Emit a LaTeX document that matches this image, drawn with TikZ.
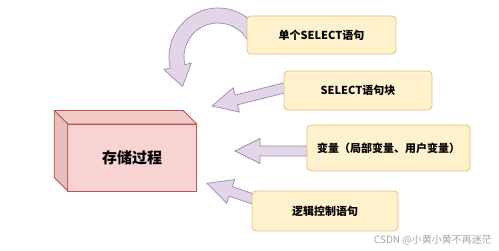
\documentclass[tikz,border=0pt]{standalone}
\usepackage{fontspec}
\newfontfamily\cjk{Noto Sans CJK SC}
\usetikzlibrary{calc}
\definecolor{arrfill}{HTML}{E1D5E7}
\definecolor{arrdraw}{HTML}{9E8AB4}
\definecolor{boxfill}{HTML}{FFF2CC}
\definecolor{boxdraw}{HTML}{DCC27A}
\definecolor{cubefront}{HTML}{F8D5D3}
\definecolor{cubetop}{HTML}{F1CAC8}
\definecolor{cubeside}{HTML}{E8BEBB}
\definecolor{cubedraw}{HTML}{B85450}
\newcommand\myblockarrow[2]{%
  \coordinate (ba-B) at ($(#2)!25pt!(#1)$);
  \filldraw[arrowshape] ($(#1)!5pt!90:(#2)$) -- ($(ba-B)!5pt!90:(#2)$) -- ($(ba-B)!12.5pt!90:(#2)$) -- (#2) -- ($(ba-B)!12.5pt!-90:(#2)$) -- ($(ba-B)!5pt!-90:(#2)$) -- ($(#1)!5pt!-90:(#2)$) -- cycle;}
\begin{document}
\begin{tikzpicture}[x=1pt,y=1pt,
  arrowshape/.style={fill=arrfill,draw=arrdraw,line width=0.7pt,line join=miter},
  itembox/.style={draw=boxdraw,fill=boxfill,line width=0.8pt,rounded corners=4pt,
    minimum height=38pt,inner sep=0pt,outer sep=0pt,
    font=\cjk\bfseries\fontsize{11}{13}\selectfont},
  cubeface/.style={draw=cubedraw,line width=0.8pt,line join=round}]
\useasboundingbox (0,0) rectangle (499,251);
\fill[white] (0,0) rectangle (499,251);

% coordinates for the arrows
\coordinate (c1) at (218,194);
\coordinate (a2s) at (288,164);
\coordinate (a2t) at (212,145);
\coordinate (a3s) at (310,100);
\coordinate (a3t) at (235,100);
\coordinate (a4s) at (256,51);
\coordinate (a4t) at (207,67.7);

% curved arrow
\filldraw[arrowshape] ($(c1)+(25:49)$) arc[start angle=25,end angle=193,radius=49]
  -- (164,181.5) -- (182.5,164.5) -- (191.2,187.9)
  -- ($(c1)+(193:34)$) arc[start angle=193,end angle=25,radius=34] -- cycle;

\myblockarrow{a2s}{a2t}
\myblockarrow{a3s}{a3t}
\myblockarrow{a4s}{a4t}

% boxes
\node[itembox,minimum width=149pt] (b1) at (321.5,216) {单个SELECT语句};
\node[itembox,minimum width=148pt,minimum height=39pt] (b2) at (358,160.5) {SELECT语句块};
\node[itembox,minimum width=163pt,minimum height=46pt] (b3) at (388.5,103) {变量（局部变量、用户变量）};
\node[itembox,minimum width=146pt,minimum height=40pt] (b4) at (325,40) {逻辑控制语句};

% cube
\node[cubeface,fill=cubefront,minimum width=129pt,minimum height=67pt,inner sep=0pt,outer sep=0pt,
  font=\cjk\bfseries\fontsize{15}{17}\selectfont] (cube) at (132.2,93.5) {存储过程};
\filldraw[cubeface,fill=cubetop] (cube.north west) -- ++(-13.5,13.5) -- ($(cube.north east)+(-13.5,13.5)$) -- (cube.north east) -- cycle;
\filldraw[cubeface,fill=cubeside] (cube.north west) -- ++(-13.5,13.5) -- ($(cube.south west)+(-13.5,13.5)$) -- (cube.south west) -- cycle;

% watermark
\node[anchor=east,text=black!35,font=\cjk\fontsize{10}{12}\selectfont,inner sep=0pt] (wm) at (492,11) {CSDN @小黄小黄不再迷茫};
\end{tikzpicture}
\end{document}
